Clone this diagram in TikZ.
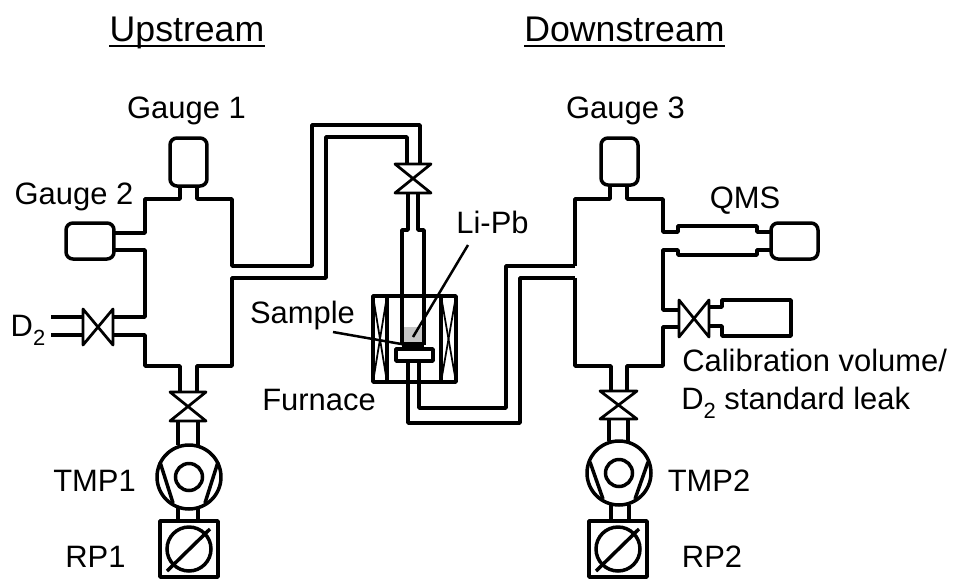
\documentclass[tikz,border=0pt]{standalone}
\usepackage{fontspec}
\setmainfont{Liberation Sans}
\newcommand{\subtwo}{\raisebox{-0.3em}{\fontsize{12.5}{14}\selectfont 2}}
\tikzset{pipe/.style={line width=0.07cm,line join=round},
 valve/.style={line width=0.055cm,line join=round},
 coil/.style={line width=0.035cm},
 leader/.style={line width=0.05cm},
 gauge/.style={draw,line width=0.07cm,rounded corners=0.14cm,inner sep=0pt},
 pumpring/.style={draw,circle,line width=0.07cm,inner sep=0pt},
 lab/.style={font=\fontsize{17.6}{20}\selectfont,inner sep=0pt,anchor=base},
 head/.style={font=\fontsize{20.3}{24}\selectfont,inner sep=0pt,anchor=base},
 headline/.style={line width=0.045cm}}
\begin{document}
\begin{tikzpicture}[x=0.02cm,y=-0.02cm]
\useasboundingbox (0,0) rectangle (954,579);
% titles
\node [head] (upstream) at (187,41.5) {Upstream};
\node [head] (downstream) at (624.5,41.5) {Downstream};
\draw [headline] ([yshift=-0.09cm]upstream.base west) -- ([yshift=-0.09cm]upstream.base east);
\draw [headline] ([yshift=-0.09cm]downstream.base west) -- ([yshift=-0.09cm]downstream.base east);
% upstream chamber
\draw [pipe] (180,186) -- (180,199) -- (145,199) -- (145,233) -- (114,233);
\draw [pipe] (114,250) -- (145,250) -- (145,317) -- (113,317);
\draw [pipe] (113,335) -- (145,335) -- (145,366) -- (180,366) -- (180,392);
\draw [pipe] (197,186) -- (197,199) -- (232,199) -- (232,266) -- (312,266) -- (312,125) -- (420,125) -- (420,164);
\draw [pipe] (197,392) -- (197,366) -- (232,366) -- (232,278) -- (326,278) -- (326,137) -- (407,137) -- (407,164);
\node [gauge,minimum width=0.74cm,minimum height=0.96cm] (gaugeone) at (188.5,162) {};
\node [gauge,minimum width=0.96cm,minimum height=0.72cm] (gaugetwo) at (90,241) {};
\node [lab] (gaugeonelab) at (186.5,118.5) {Gauge 1};
\node [lab] (gaugetwolab) at (74,204) {Gauge 2};
% gas inlet
\draw [pipe] (51,317) -- (83,317);
\draw [pipe] (51,335) -- (83,335);
\draw [valve] (83,309) -- (113,345) -- (113,309) -- (83,345) -- cycle;
\node [lab] (dtwo) at (28,336) {D\subtwo};
% upstream pumps
\draw [valve] (170,392) -- (206,392) -- (170,421) -- (206,421) -- cycle;
\draw [pipe] (178,421) -- (178,445);
\draw [pipe] (198,421) -- (198,445);
\node [pumpring,minimum size=1.28cm] (tmpone) at (189,477) {};
\node [pumpring,minimum size=0.54cm] (tmponehub) at (189,477) {};
\draw [pipe] (160,462) -- (173,503);
\draw [pipe] (218,462) -- (205,503);
\draw [pipe] (178,508) -- (178,521);
\draw [pipe] (198,508) -- (198,521);
\draw [pipe] (160,521) rectangle (218,577);
\node [pumpring,minimum size=0.88cm] (rpone) at (189,549) {};
\draw [pipe] (167,571) -- (210,529);
\node [lab] (tmponelab) at (94.5,491) {TMP1};
\node [lab] (rponelab) at (95.5,567) {RP1};
% sample line
\draw [valve] (395,164) -- (431,164) -- (395,193) -- (431,193) -- cycle;
\fill [gray!45] (402,327) rectangle (424,345);
\draw [pipe] (408,193) -- (408,230) -- (402,230) -- (402,345);
\draw [pipe] (418,193) -- (418,230) -- (424,230) -- (424,345);
\draw [line width=0.11cm] (402,345) -- (424,345);
\draw [pipe] (396,349) rectangle (433,361);
\draw [pipe] (419,361) -- (419,408) -- (506,408) -- (506,266) -- (575,266);
\draw [pipe] (408,361) -- (408,423) -- (520,423) -- (520,278) -- (575,278);
% furnace
\draw [pipe] (373,296) rectangle (456,382);
\draw [pipe] (387,296) -- (387,382);
\draw [pipe] (441,296) -- (441,382);
\draw [coil] (373,296) -- (387,382);
\draw [coil] (387,296) -- (373,382);
\draw [coil] (441,296) -- (456,382);
\draw [coil] (456,296) -- (441,382);
\node [lab] (furnacelab) at (319,410) {Furnace};
\node [lab] (samplelab) at (302.5,323) {Sample};
\node [lab] (lipblab) at (492.5,233) {Li-Pb};
\coordinate (lipbend) at (468,245);
\coordinate (lipbtip) at (413,337);
\coordinate (samplestart) at (333,332);
\coordinate (sampletip) at (407,345);
\draw [leader] (lipbend) -- (lipbtip);
\draw [leader] (samplestart) -- (sampletip);
% downstream chamber
\draw [pipe] (610,185) -- (610,199) -- (575,199) -- (575,266);
\draw [pipe] (575,278) -- (575,366) -- (611,366) -- (611,391);
\draw [pipe] (627,185) -- (627,199) -- (663,199) -- (663,232) -- (678,232) -- (678,226) -- (757,226) -- (757,232) -- (771,232);
\draw [pipe] (771,250) -- (757,250) -- (757,255) -- (678,255) -- (678,250) -- (663,250) -- (663,310) -- (679,310);
\draw [pipe] (679,327) -- (663,327) -- (663,366) -- (627,366) -- (627,391);
\node [gauge,minimum width=0.74cm,minimum height=0.94cm] (gaugethree) at (619.5,161.5) {};
\node [gauge,minimum width=0.94cm,minimum height=0.72cm] (qms) at (794.5,241) {};
\node [lab] (gaugethreelab) at (625.5,118) {Gauge 3};
\node [lab] (qmslab) at (745,208) {QMS};
% calibration volume
\draw [valve] (679,300) -- (709,337) -- (709,300) -- (679,337) -- cycle;
\draw [pipe] (709,307) -- (722,307) -- (722,300) -- (791,300) -- (791,336) -- (722,336) -- (722,326) -- (709,326);
\node [lab,anchor=base west] (callab) at (682,371) {Calibration volume/};
\node [lab,anchor=base west] (leaklab) at (681,409) {D\subtwo\ standard leak};
% downstream pumps
\draw [valve] (600,391) -- (637,391) -- (600,419) -- (637,419) -- cycle;
\draw [pipe] (609,419) -- (609,441);
\draw [pipe] (628,419) -- (628,441);
\node [pumpring,minimum size=1.28cm] (tmptwo) at (619,473) {};
\node [pumpring,minimum size=0.54cm] (tmptwohub) at (619,473) {};
\draw [pipe] (590,462) -- (603,499);
\draw [pipe] (648,462) -- (635,499);
\draw [pipe] (611,505) -- (611,521);
\draw [pipe] (629,505) -- (629,521);
\draw [pipe] (589,521) rectangle (647,577);
\node [pumpring,minimum size=0.88cm] (rptwo) at (618,549) {};
\draw [pipe] (596,571) -- (639,529);
\node [lab] (tmptwolab) at (709,491) {TMP2};
\node [lab] (rptwolab) at (712,567) {RP2};
\end{tikzpicture}
\end{document}
